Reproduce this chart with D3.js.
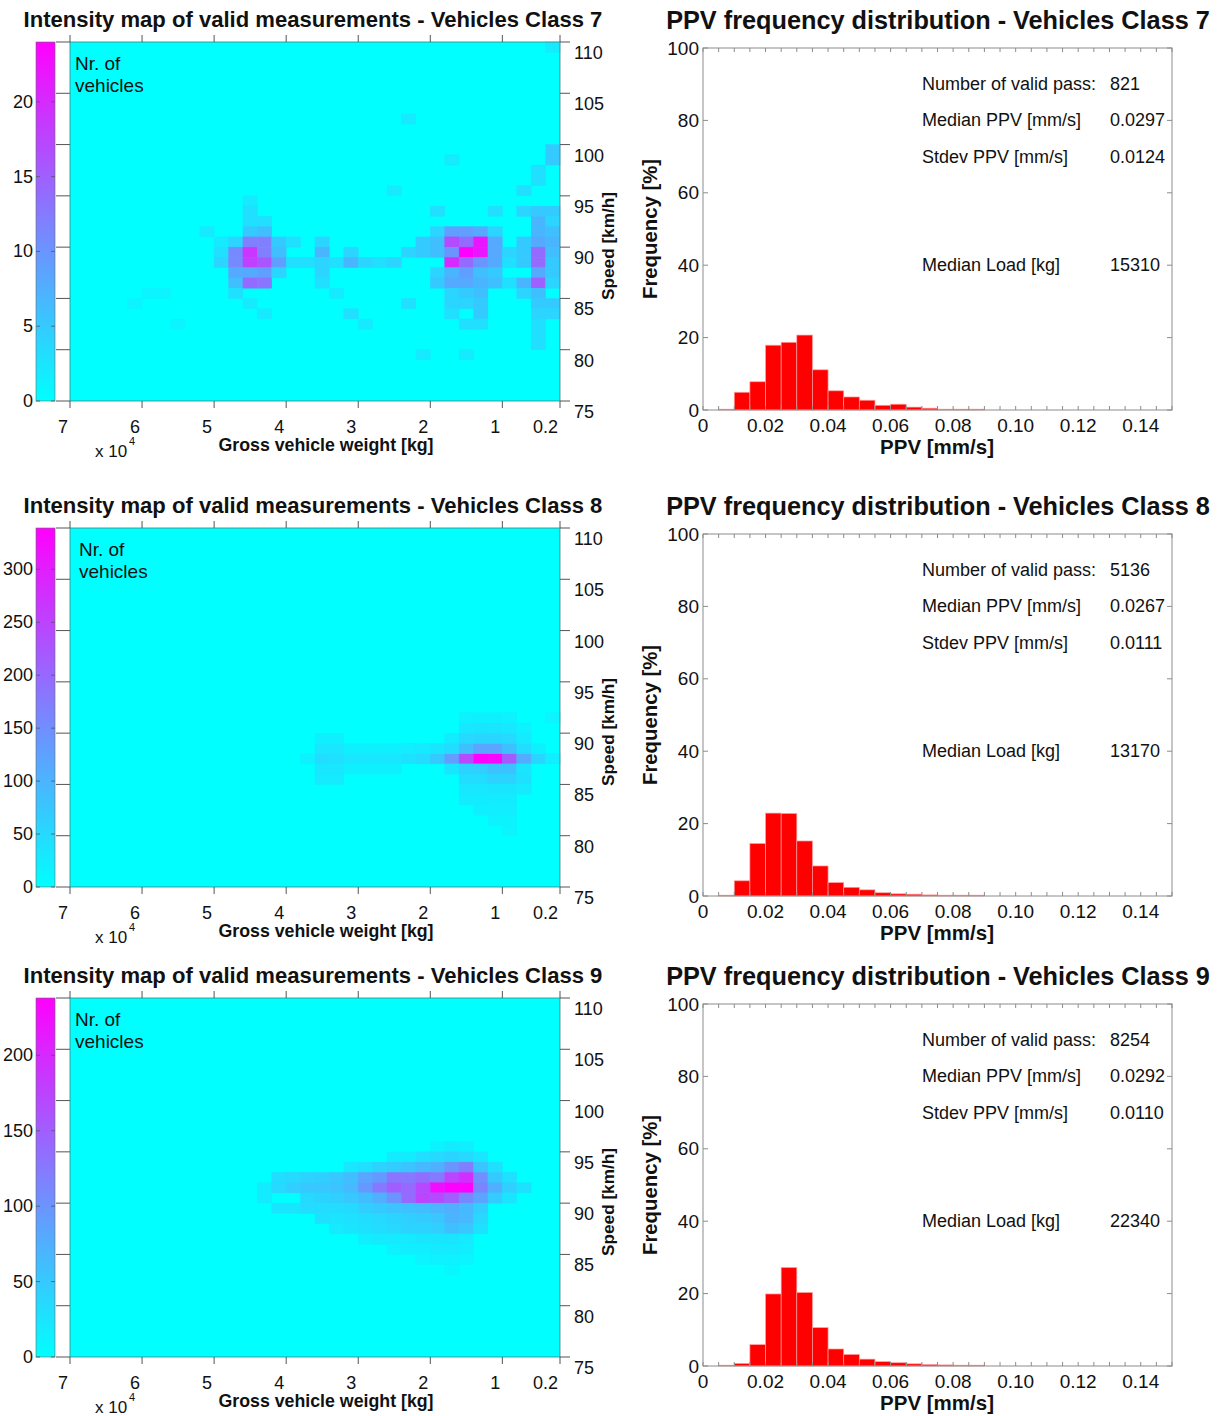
<!DOCTYPE html>
<html>
<head>
<meta charset="utf-8">
<script src="https://cdn.jsdelivr.net/npm/d3@7"></script>
<style>
  body { margin: 0; background: #fff; }
  svg { display: block; }
  text { font-family: "Liberation Sans", Arial, Helvetica, sans-serif; fill: #111; }
</style>
</head>
<body>
<svg id="fig" width="1226" height="1416"></svg>
<script>
// ---------------- data ----------------
const vehicleClasses = [7, 8, 9];

// Gross vehicle weight axis (kg) and its tick labels (x 10^4)
const weightTicks = [70000, 60000, 50000, 40000, 30000, 20000, 10000, 2000];
const weightTickLabels = ["7", "6", "5", "4", "3", "2", "1", "0.2"];
const weightBin = 2000;          // kg per cell
const speedTicks = [75, 80, 85, 90, 95, 100, 105, 110];
const speedBin = 1;              // km/h per cell

// colour bar ranges (number of vehicles)
const colorMax = [24, 339, 238];
const colorTicks7 = [0, 5, 10, 15, 20];
const colorTicks8 = [0, 50, 100, 150, 200, 250, 300];
const colorTicks9 = [0, 50, 100, 150, 200];

// intensity cells: [weight lower edge (kg), speed lower edge (km/h), count]
const cells7 = [
  [60000,84,1],[58000,85,1],[56000,85,1],[54000,82,1],[50000,91,2],
  [48000,90,2],[48000,89,3],[48000,88,4],
  [46000,90,4],[46000,89,11],[46000,88,11],[46000,87,8],[46000,86,6],[46000,85,3],
  [44000,94,2],[44000,93,3],[44000,92,3],[44000,91,5],[44000,90,12],[44000,89,19],[44000,88,18],[44000,87,8],[44000,86,14],[44000,84,2],
  [42000,92,3],[42000,91,6],[42000,90,12],[42000,89,12],[42000,88,16],[42000,87,9],[42000,86,13],[42000,83,2],
  [40000,90,5],[40000,89,6],[40000,88,9],[40000,87,4],
  [38000,90,3],[38000,88,3],[36000,88,3],
  [34000,90,4],[34000,89,7],[34000,88,4],[34000,87,4],[34000,86,3],
  [32000,88,3],[32000,85,2],
  [30000,89,4],[30000,88,7],[30000,83,3],
  [28000,88,4],[28000,82,2],
  [26000,88,3],
  [24000,95,2],[24000,88,4],
  [22000,102,2],[22000,89,4],[22000,84,3],
  [20000,90,5],[20000,89,5],[20000,79,2],
  [18000,93,3],[18000,91,4],[18000,90,6],[18000,89,6],[18000,87,4],[18000,86,5],
  [16000,98,2],[16000,91,9],[16000,90,17],[16000,89,10],[16000,88,20],[16000,87,7],[16000,86,8],[16000,85,4],[16000,84,4],[16000,83,3],
  [14000,91,9],[14000,90,14],[14000,89,24],[14000,88,14],[14000,87,9],[14000,86,8],[14000,85,5],[14000,84,4],[14000,82,3],[14000,79,2],
  [12000,91,8],[12000,90,22],[12000,89,22],[12000,88,10],[12000,87,6],[12000,86,7],[12000,85,6],[12000,84,5],[12000,83,5],[12000,82,3],
  [10000,93,3],[10000,91,4],[10000,90,8],[10000,89,8],[10000,88,8],[10000,87,5],[10000,86,6],
  [8000,89,4],[8000,88,3],[8000,86,3],
  [6000,95,3],[6000,93,4],[6000,90,5],[6000,89,5],[6000,88,5],[6000,86,7],[6000,85,4],
  [4000,97,3],[4000,96,3],[4000,93,5],[4000,92,7],[4000,91,7],[4000,90,8],[4000,89,14],[4000,88,14],[4000,87,8],[4000,86,15],[4000,85,6],[4000,84,5],[4000,83,4],[4000,82,3],[4000,81,3],[4000,80,3],
  [2000,109,2],[2000,99,5],[2000,98,5],[2000,93,5],[2000,92,4],[2000,91,6],[2000,90,7],[2000,89,6],[2000,88,5],[2000,87,5],[2000,86,4],[2000,84,5],[2000,83,4]
];

const cells8 = [
  [36000,87,18],[34000,87,45],[32000,87,40],[30000,87,32],[28000,87,30],[26000,87,30],[24000,87,32],[22000,87,38],[20000,87,45],
  [18000,87,70],[16000,87,130],[14000,87,240],[12000,87,339],[10000,87,330],[8000,87,220],[6000,87,110],[4000,87,55],[2000,87,22],
  [34000,88,32],[32000,88,32],[30000,88,20],[28000,88,20],[26000,88,20],[24000,88,20],[22000,88,24],[20000,88,28],[18000,88,35],
  [16000,88,45],[14000,88,85],[12000,88,120],[10000,88,120],[8000,88,85],[6000,88,45],[4000,88,20],
  [34000,89,20],[32000,89,20],[16000,89,25],[14000,89,50],[12000,89,55],[10000,89,55],[8000,89,50],[6000,89,28],
  [14000,90,32],[12000,90,35],[10000,90,35],[8000,90,32],[6000,90,18],
  [14000,91,18],[12000,91,20],[10000,91,20],[8000,91,18],[2000,91,14],
  [34000,86,32],[32000,86,32],[30000,86,20],[28000,86,20],[26000,86,20],[24000,86,20],[16000,86,35],[14000,86,60],[12000,86,65],[10000,86,80],[8000,86,80],[6000,86,35],
  [34000,85,28],[32000,85,28],[14000,85,45],[12000,85,45],[10000,85,60],[8000,85,60],[6000,85,40],
  [14000,84,32],[12000,84,32],[10000,84,35],[8000,84,35],[6000,84,28],
  [14000,83,25],[12000,83,25],[10000,83,25],[8000,83,25],
  [12000,82,20],[10000,82,22],[8000,82,22],
  [10000,81,16],[8000,81,16],
  [8000,80,14]
];

const cells9 = [
  [18000,95,12],[16000,95,18],[14000,95,15],
  [24000,94,18],[22000,94,18],[20000,94,30],[18000,94,35],[16000,94,40],[14000,94,35],[12000,94,22],
  [30000,93,22],[28000,93,30],[26000,93,42],[24000,93,48],[22000,93,55],[20000,93,65],[18000,93,75],[16000,93,100],[14000,93,120],[12000,93,55],[10000,93,30],
  [40000,92,32],[38000,92,36],[36000,92,42],[34000,92,45],[32000,92,52],[30000,92,62],[28000,92,85],[26000,92,95],[24000,92,130],[22000,92,125],
  [20000,92,135],[18000,92,125],[16000,92,175],[14000,92,195],[12000,92,105],[10000,92,50],[8000,92,30],
  [42000,91,18],[40000,91,36],[38000,91,45],[36000,91,52],[34000,91,52],[32000,91,55],[30000,91,65],[28000,91,95],[26000,91,125],[24000,91,150],[22000,91,140],
  [20000,91,170],[18000,91,225],[16000,91,238],[14000,91,235],[12000,91,115],[10000,91,75],[8000,91,45],[6000,91,28],
  [42000,90,18],[36000,90,36],[34000,90,40],[32000,90,45],[30000,90,52],[28000,90,62],[26000,90,75],[24000,90,100],[22000,90,140],[20000,90,175],
  [18000,90,170],[16000,90,150],[14000,90,110],[12000,90,85],[10000,90,48],[8000,90,25],
  [40000,89,24],[38000,89,24],[36000,89,32],[34000,89,32],[32000,89,32],[30000,89,34],[28000,89,45],[26000,89,50],[24000,89,55],[22000,89,58],
  [20000,89,62],[18000,89,68],[16000,89,75],[14000,89,65],[12000,89,45],
  [34000,88,28],[32000,88,25],[30000,88,28],[28000,88,32],[26000,88,36],[24000,88,40],[22000,88,44],[20000,88,48],[18000,88,52],[16000,88,70],[14000,88,65],[12000,88,36],
  [32000,87,20],[30000,87,24],[28000,87,28],[26000,87,32],[24000,87,36],[22000,87,40],[20000,87,40],[18000,87,45],[16000,87,60],[14000,87,52],[12000,87,28],
  [28000,86,16],[26000,86,20],[24000,86,20],[22000,86,20],[20000,86,24],[18000,86,24],[16000,86,25],[14000,86,20],
  [24000,85,13],[22000,85,16],[20000,85,16],[18000,85,20],[16000,85,20],[14000,85,16],
  [20000,84,10],[18000,84,13],[16000,84,13],[14000,84,10],
  [16000,83,8]
];

// PPV histogram: bin edges (mm/s) and frequency per bin (%)
const ppvBinEdges = [0.005, 0.010, 0.015, 0.020, 0.025, 0.030, 0.035, 0.040, 0.045,
                     0.050, 0.055, 0.060, 0.065, 0.070, 0.075, 0.080, 0.085, 0.090];
const ppvFreq7 = [0.2, 4.9, 7.8, 17.9, 18.7, 20.7, 11.1, 5.3, 3.6, 2.7, 1.3, 1.6, 0.8, 0.5, 0.2, 0.1, 0.1];
const ppvFreq8 = [0.0, 4.2, 14.5, 22.9, 22.8, 15.2, 8.3, 3.7, 2.4, 1.7, 0.9, 0.6, 0.5, 0.3, 0.1, 0.0, 0.0];
const ppvFreq9 = [0.0, 0.7, 5.9, 19.9, 27.2, 20.3, 10.6, 4.7, 3.2, 1.9, 1.2, 0.9, 0.6, 0.4, 0.3, 0.0, 0.0];
const ppvTicks = [0, 0.02, 0.04, 0.06, 0.08, 0.10, 0.12, 0.14];
const ppvTickLabels = ["0", "0.02", "0.04", "0.06", "0.08", "0.10", "0.12", "0.14"];
const ppvMinorStep = 0.005;
const freqTicks = [0, 20, 40, 60, 80, 100];

// summary statistics printed inside each histogram
const statLabels = ["Number of valid pass:", "Median PPV [mm/s]", "Stdev PPV [mm/s]", "Median Load [kg]"];
const statLevels = [90, 80, 70, 40];   // frequency level each line sits at
const stats7 = ["821", "0.0297", "0.0124", "15310"];
const stats8 = ["5136", "0.0267", "0.0111", "13170"];
const stats9 = ["8254", "0.0292", "0.0110", "22340"];

// ---------------- layout ----------------
const rowOffset = [0, 486, 956];
const panels = [
  { cls: vehicleClasses[0], cells: cells7, cmax: colorMax[0], cticks: colorTicks7, freq: ppvFreq7, stats: stats7, noteX: 75 },
  { cls: vehicleClasses[1], cells: cells8, cmax: colorMax[1], cticks: colorTicks8, freq: ppvFreq8, stats: stats8, noteX: 79 },
  { cls: vehicleClasses[2], cells: cells9, cmax: colorMax[2], cticks: colorTicks9, freq: ppvFreq9, stats: stats9, noteX: 75 }
];

const svg = d3.select("#fig");
const cool = d3.interpolateRgb("#00ffff", "#ff00ff");
const tickColor = "#555";

// scale a text's font size so its rendered width equals `w`
function fitWidth(sel, w) {
  const n = sel.node();
  const fs = parseFloat(sel.attr("font-size"));
  const cur = n.getComputedTextLength();
  if (cur > 0) sel.attr("font-size", (fs * w / cur).toFixed(2));
  return sel;
}

panels.forEach((p, i) => {
  const dy = rowOffset[i];
  const g = svg.append("g");

  // ---------- intensity map ----------
  const top = 42 + dy, bottom = 401 + dy, left = 70, right = 560;
  const hx = d3.scaleLinear().domain([70000, 2000]).range([left, right]);
  const hy = d3.scaleLinear().domain([75, 110]).range([bottom, top]);
  const color = v => cool(Math.min(1, v / p.cmax));

  g.append("text")
    .attr("x", 313).attr("y", 27 + dy)
    .attr("text-anchor", "middle").attr("font-size", 18).attr("font-weight", "bold")
    .text(`Intensity map of valid measurements - Vehicles Class ${p.cls}`)
    .call(s => fitWidth(s, 579));

  // background = zero count
  g.append("rect").attr("x", left).attr("y", top)
    .attr("width", right - left).attr("height", bottom - top)
    .attr("fill", color(0));

  g.append("g").selectAll("rect").data(p.cells).join("rect")
    .attr("x", d => hx(d[0] + weightBin))
    .attr("y", d => hy(d[1] + speedBin))
    .attr("width", d => hx(d[0]) - hx(d[0] + weightBin))
    .attr("height", d => hy(d[1]) - hy(d[1] + speedBin))
    .attr("fill", d => color(d[2]))
    .attr("stroke", d => color(d[2]))
    .attr("stroke-width", 0.4);

  g.append("rect").attr("x", left).attr("y", top)
    .attr("width", right - left).attr("height", bottom - top)
    .attr("fill", "none").attr("stroke", "#3f7f80").attr("stroke-width", 0.8);

  // weight ticks (top and bottom)
  weightTicks.forEach((w, k) => {
    const x = hx(w);
    g.append("line").attr("x1", x).attr("x2", x).attr("y1", top - 7).attr("y2", top)
      .attr("stroke", tickColor).attr("stroke-width", 1);
    g.append("line").attr("x1", x).attr("x2", x).attr("y1", bottom).attr("y2", bottom + 7)
      .attr("stroke", tickColor).attr("stroke-width", 1);
    g.append("text").attr("x", x - 2).attr("y", bottom + 26)
      .attr("dominant-baseline", "central").attr("text-anchor", "end")
      .attr("font-size", 18).attr("fill", "#222")
      .text(weightTickLabels[k]);
  });

  // speed ticks: right side with labels, short outer ticks on the left
  speedTicks.forEach(s => {
    const y = hy(s);
    g.append("line").attr("x1", right).attr("x2", right + 10).attr("y1", y).attr("y2", y)
      .attr("stroke", tickColor).attr("stroke-width", 1);
    g.append("line").attr("x1", 56).attr("x2", left).attr("y1", y).attr("y2", y)
      .attr("stroke", tickColor).attr("stroke-width", 1);
    g.append("text").attr("x", 574).attr("y", y + 11)
      .attr("dominant-baseline", "central").attr("font-size", 18).attr("fill", "#222")
      .text(s);
  });

  // axis titles
  g.append("text").attr("x", 326).attr("y", 445 + dy)
    .attr("dominant-baseline", "central").attr("text-anchor", "middle")
    .attr("font-size", 16).attr("font-weight", "bold")
    .text("Gross vehicle weight [kg]").call(s => fitWidth(s, 215));
  g.append("text").attr("x", 95).attr("y", 451 + dy)
    .attr("dominant-baseline", "central").attr("font-size", 17).attr("fill", "#222")
    .text("x 10");
  g.append("text").attr("x", 129).attr("y", 441 + dy)
    .attr("dominant-baseline", "central").attr("font-size", 11).attr("fill", "#222")
    .text("4");
  g.append("text")
    .attr("transform", `translate(608,${246 + dy}) rotate(-90)`)
    .attr("dominant-baseline", "central").attr("text-anchor", "middle")
    .attr("font-size", 16).attr("font-weight", "bold")
    .text("Speed [km/h]").call(s => fitWidth(s, 108));

  // "Nr. of vehicles" note
  const note = g.append("text").attr("x", p.noteX).attr("font-size", 19).attr("fill", "#146a6c");
  note.append("tspan").attr("x", p.noteX).attr("y", 63 + dy).attr("dominant-baseline", "central").text("Nr. of");
  note.append("tspan").attr("x", p.noteX).attr("y", 85 + dy).attr("dominant-baseline", "central").text("vehicles");

  // colour bar
  const gid = `cbar${p.cls}`;
  const grad = svg.append("defs").append("linearGradient")
    .attr("id", gid).attr("x1", 0).attr("y1", 1).attr("x2", 0).attr("y2", 0);
  d3.range(0, 1.0001, 0.1).forEach(t => {
    grad.append("stop").attr("offset", t).attr("stop-color", cool(t));
  });
  const cy = d3.scaleLinear().domain([0, p.cmax]).range([bottom, top]);
  g.append("rect").attr("x", 36).attr("y", top).attr("width", 19).attr("height", bottom - top)
    .attr("fill", `url(#${gid})`);
  g.append("rect").attr("x", 36).attr("y", top).attr("width", 19).attr("height", bottom - top)
    .attr("fill", "none").attr("stroke", "#6a6a6a").attr("stroke-width", 0.6);
  p.cticks.forEach(v => {
    const y = cy(v);
    g.append("line").attr("x1", 36).attr("x2", 40).attr("y1", y).attr("y2", y)
      .attr("stroke", "#555").attr("stroke-width", 0.8);
    g.append("line").attr("x1", 51).attr("x2", 55).attr("y1", y).attr("y2", y)
      .attr("stroke", "#555").attr("stroke-width", 0.8);
    g.append("text").attr("x", 33).attr("y", y)
      .attr("dominant-baseline", "central").attr("text-anchor", "end")
      .attr("font-size", 18).attr("fill", "#222").text(v);
  });

  // ---------- PPV histogram ----------
  const hTop = 48 + dy, hBot = 410 + dy, hL = 703, hR = 1172;
  const px = d3.scaleLinear().domain([0, 0.15]).range([hL, hR]);
  const py = d3.scaleLinear().domain([0, 100]).range([hBot, hTop]);

  g.append("text")
    .attr("x", 938).attr("y", 29 + dy)
    .attr("text-anchor", "middle").attr("font-size", 21).attr("font-weight", "bold")
    .text(`PPV frequency distribution - Vehicles Class ${p.cls}`)
    .call(s => fitWidth(s, 544));

  const bins = p.freq.map((f, k) => ({ x0: ppvBinEdges[k], x1: ppvBinEdges[k + 1], f }));
  g.append("g").selectAll("rect").data(bins).join("rect")
    .attr("x", d => px(d.x0))
    .attr("width", d => px(d.x1) - px(d.x0))
    .attr("y", d => Math.min(py(d.f), hBot - 0.8))
    .attr("height", d => Math.max(hBot - py(d.f), 0.8))
    .attr("fill", "#ff0000")
    .attr("stroke", "#ff9d9d").attr("stroke-width", 0.7);

  g.append("rect").attr("x", hL).attr("y", hTop).attr("width", hR - hL).attr("height", hBot - hTop)
    .attr("fill", "none").attr("stroke", "#8c8c8c").attr("stroke-width", 1);

  // minor ticks along top and bottom
  d3.range(0, 0.15 + 1e-9, ppvMinorStep).forEach(v => {
    const x = px(v);
    g.append("line").attr("x1", x).attr("x2", x).attr("y1", hBot).attr("y2", hBot - 4)
      .attr("stroke", "#8c8c8c").attr("stroke-width", 1);
    g.append("line").attr("x1", x).attr("x2", x).attr("y1", hTop).attr("y2", hTop + 4)
      .attr("stroke", "#8c8c8c").attr("stroke-width", 1);
  });
  ppvTicks.forEach((v, k) => {
    g.append("text").attr("x", px(v)).attr("y", hBot + 15)
      .attr("dominant-baseline", "central").attr("text-anchor", "middle")
      .attr("font-size", 19).attr("fill", "#111").text(ppvTickLabels[k]);
  });
  freqTicks.forEach(v => {
    const y = py(v);
    g.append("line").attr("x1", hL).attr("x2", hL + 5).attr("y1", y).attr("y2", y)
      .attr("stroke", "#8c8c8c").attr("stroke-width", 1);
    g.append("line").attr("x1", hR - 5).attr("x2", hR).attr("y1", y).attr("y2", y)
      .attr("stroke", "#8c8c8c").attr("stroke-width", 1);
    g.append("text").attr("x", hL - 4).attr("y", y)
      .attr("dominant-baseline", "central").attr("text-anchor", "end")
      .attr("font-size", 19).attr("fill", "#111").text(v);
  });

  g.append("text").attr("x", 937).attr("y", 446 + dy)
    .attr("dominant-baseline", "central").attr("text-anchor", "middle")
    .attr("font-size", 18).attr("font-weight", "bold")
    .text("PPV [mm/s]").call(s => fitWidth(s, 114));
  g.append("text")
    .attr("transform", `translate(650,${229 + dy}) rotate(-90)`)
    .attr("dominant-baseline", "central").attr("text-anchor", "middle")
    .attr("font-size", 17).attr("font-weight", "bold")
    .text("Frequency [%]").call(s => fitWidth(s, 140));

  // summary statistics
  statLabels.forEach((lab, k) => {
    const y = py(statLevels[k]);
    g.append("text").attr("x", 922).attr("y", y)
      .attr("dominant-baseline", "central").attr("font-size", 18).attr("fill", "#222").text(lab);
    g.append("text").attr("x", 1110).attr("y", y)
      .attr("dominant-baseline", "central").attr("font-size", 18).attr("fill", "#222").text(p.stats[k]);
  });
});
</script>
</body>
</html>
